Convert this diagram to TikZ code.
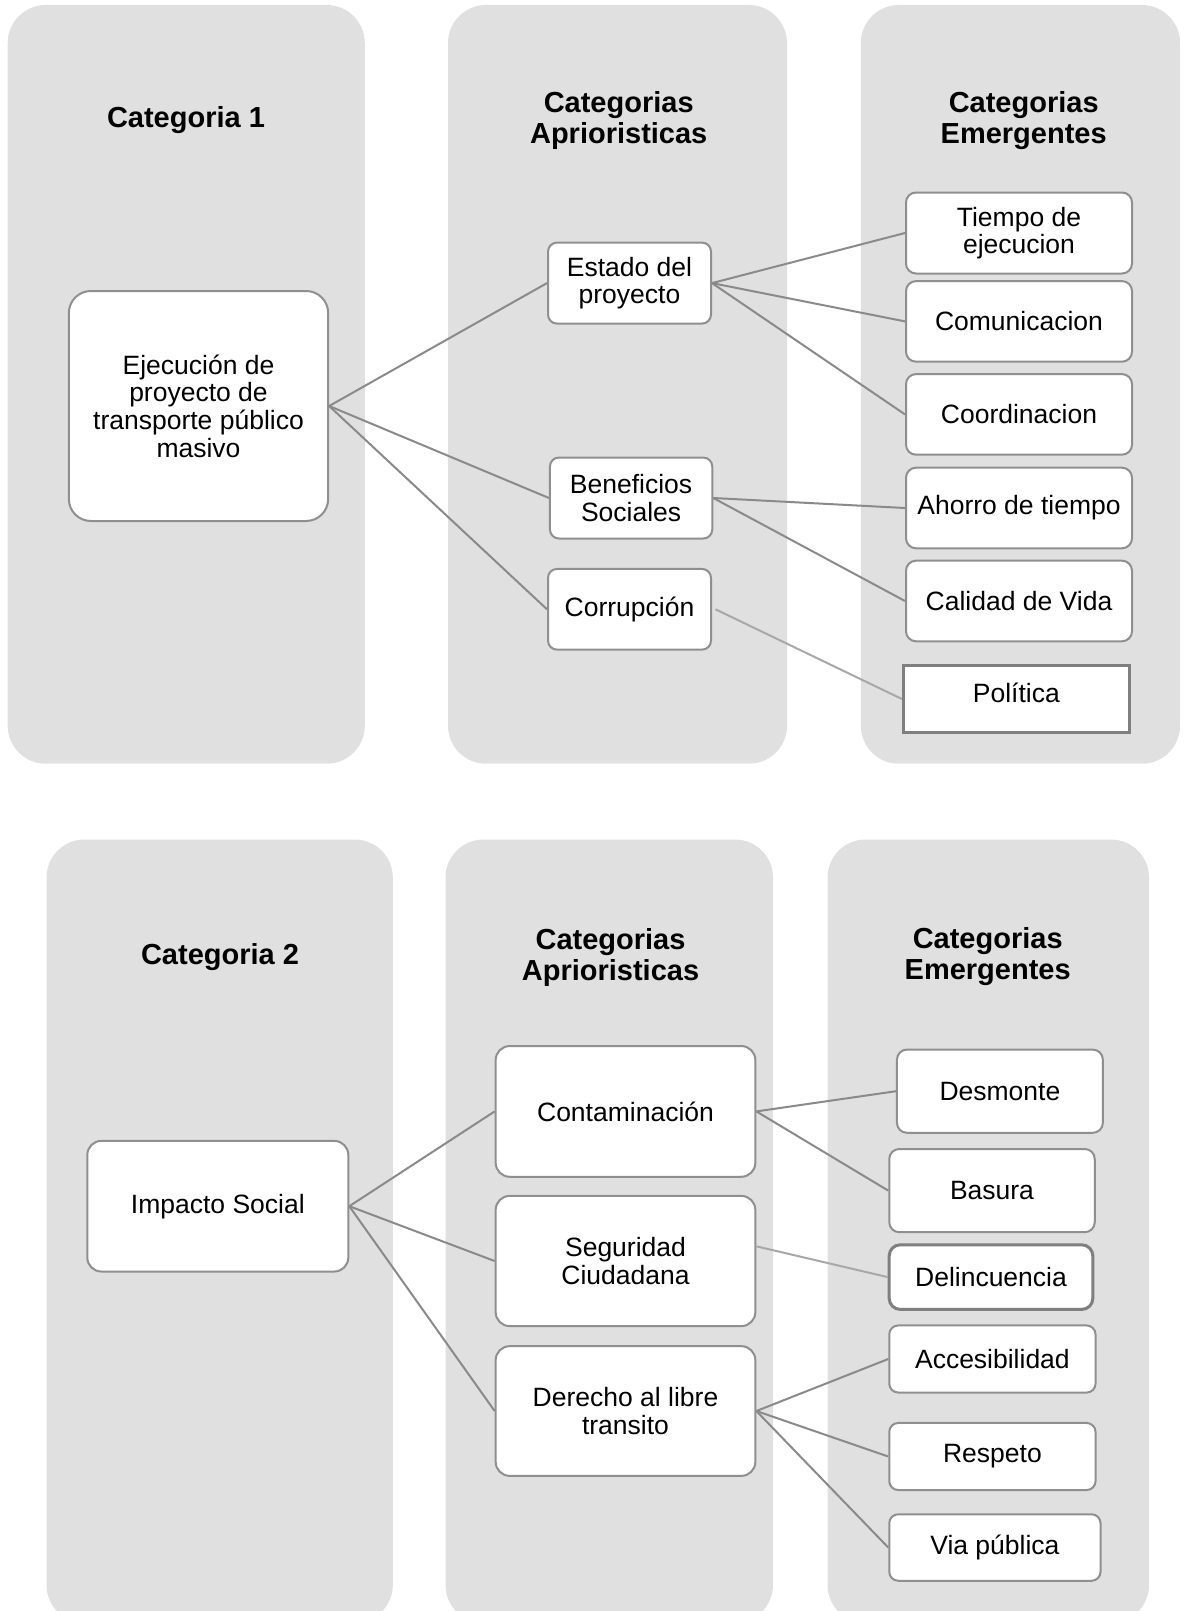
\documentclass[tikz,border=0pt]{standalone}
\usepackage{fontspec}
\setmainfont{Liberation Sans}
\definecolor{panelgray}{HTML}{E0E0E0}
\definecolor{boxgray}{HTML}{8F8F8F}
\definecolor{boxdark}{HTML}{7F7F7F}
\definecolor{linegray}{HTML}{8A8A8A}
\definecolor{lightline}{HTML}{A8A8A8}
\begin{document}
\begin{tikzpicture}[x=1pt,y=-1pt,
  panel/.style={fill=panelgray, rounded corners=38pt},
  ttl/.style={font=\bfseries\fontsize{29}{31}\selectfont, align=center, inner sep=0pt, text=black},
  box/.style={draw=boxgray, line width=2pt, fill=white, align=center, inner sep=0pt,
    font=\fontsize{26.5}{27.7}\selectfont, text=black},
  darkbox/.style={box, draw=boxdark, line width=3pt},
  conn/.style={draw=linegray, line width=2pt},
  connlight/.style={draw=lightline, line width=2pt}]
\useasboundingbox (0,0) rectangle (1183,1611);

% panels
\fill[panel] (7.7,5) rectangle (364.8,763.7);
\fill[panel] (448,5) rectangle (787,763.7);
\fill[panel] (860.8,5) rectangle (1180,763.7);
\fill[panel] (46.5,839.5) rectangle (392.8,1623);
\fill[panel] (445.5,839.5) rectangle (773,1623);
\fill[panel] (827.5,839.5) rectangle (1149,1623);

% titles
\node[ttl] (t1) at (186,120) {Categoria 1};
\node[ttl] (t2) at (618.7,121) {Categorias\\Aprioristicas};
\node[ttl] (t3) at (1023.7,121) {Categorias\\Emergentes};
\node[ttl] (t4) at (220,957) {Categoria 2};
\node[ttl] (t5) at (610.5,957) {Categorias\\Aprioristicas};
\node[ttl] (t6) at (987.7,957) {Categorias\\Emergentes};

% top nodes
\node[box, minimum width=259.3pt, minimum height=230pt, rounded corners=22pt] (ejec) at (198.5,406)
  {Ejecución de\\proyecto de\\transporte público\\masivo};
\node[box, minimum width=163pt, minimum height=81pt, rounded corners=9pt] (estado) at (629.5,283.1)
  {Estado del\\proyecto};
\node[box, minimum width=162.3pt, minimum height=81pt, rounded corners=9pt] (benef) at (631.1,498)
  {Beneficios\\Sociales};
\node[box, minimum width=163pt, minimum height=80.7pt, rounded corners=9pt] (corr) at (629.5,609.3)
  {Corrupción};
\node[box, minimum width=226pt, minimum height=81pt, rounded corners=10pt] (tiempo) at (1019,233)
  {Tiempo de\\ejecucion};
\node[box, minimum width=226pt, minimum height=80.6pt, rounded corners=10pt] (comun) at (1019,321.4)
  {Comunicacion};
\node[box, minimum width=226pt, minimum height=80.6pt, rounded corners=10pt] (coord) at (1019,414.4)
  {Coordinacion};
\node[box, minimum width=226pt, minimum height=80.6pt, rounded corners=10pt] (ahorro) at (1019,508)
  {Ahorro de tiempo};
\node[box, minimum width=226pt, minimum height=80.6pt, rounded corners=10pt] (calidad) at (1019,601)
  {Calidad de Vida};
\node[darkbox, minimum width=225.8pt, minimum height=66.6pt, text height=19pt, text depth=12pt] (pol) at (1016.3,699)
  {Política};

% top connectors
\draw[conn] (ejec.east) -- (estado.west);
\draw[conn] (ejec.east) -- (benef.west);
\draw[conn] (ejec.east) -- (corr.west);
\draw[conn] (estado.east) -- (tiempo.west);
\draw[conn] (estado.east) -- (comun.west);
\draw[conn] (estado.east) -- (coord.west);
\draw[conn] (benef.east) -- (ahorro.west);
\draw[conn] (benef.east) -- (calidad.west);
\draw[connlight] ([xshift=3.5pt]corr.east) -- (pol.west);

% bottom nodes
\node[box, minimum width=261pt, minimum height=130.6pt, rounded corners=14pt] (impacto) at (217.8,1206.2)
  {Impacto Social};
\node[box, minimum width=259.7pt, minimum height=130.7pt, rounded corners=14pt] (contam) at (625.5,1111.4)
  {Contaminación};
\node[box, minimum width=259.7pt, minimum height=130.2pt, rounded corners=14pt] (seg) at (625.5,1261)
  {Seguridad\\Ciudadana};
\node[box, minimum width=259.7pt, minimum height=129.7pt, rounded corners=14pt] (der) at (625.5,1411)
  {Derecho al libre\\transito};
\node[box, minimum width=205.9pt, minimum height=83.2pt, rounded corners=10pt] (desm) at (999.9,1091.2)
  {Desmonte};
\node[box, minimum width=205.5pt, minimum height=83.2pt, rounded corners=10pt] (basura) at (992,1190.6)
  {Basura};
\node[darkbox, minimum width=203.6pt, minimum height=64.6pt, rounded corners=11pt] (delinc) at (991,1277.1)
  {Delincuencia};
\node[box, minimum width=206.3pt, minimum height=67.1pt, rounded corners=9pt] (acces) at (992.4,1359)
  {Accesibilidad};
\node[box, minimum width=206.3pt, minimum height=67.1pt, rounded corners=9pt] (resp) at (992.4,1456.5)
  {Respeto};
\node[box, minimum width=211.3pt, minimum height=66.5pt, rounded corners=9pt] (via) at (994.9,1547.5)
  {Via pública};

% bottom connectors
\draw[conn] (impacto.east) -- (contam.west);
\draw[conn] (impacto.east) -- (seg.west);
\draw[conn] (impacto.east) -- (der.west);
\draw[conn] (contam.east) -- (desm.west);
\draw[conn] (contam.east) -- (basura.west);
\draw[connlight] ([yshift=14.7pt]seg.east) -- (delinc.west);
\draw[conn] (der.east) -- (acces.west);
\draw[conn] (der.east) -- (resp.west);
\draw[conn] (der.east) -- (via.west);
\end{tikzpicture}
\end{document}
